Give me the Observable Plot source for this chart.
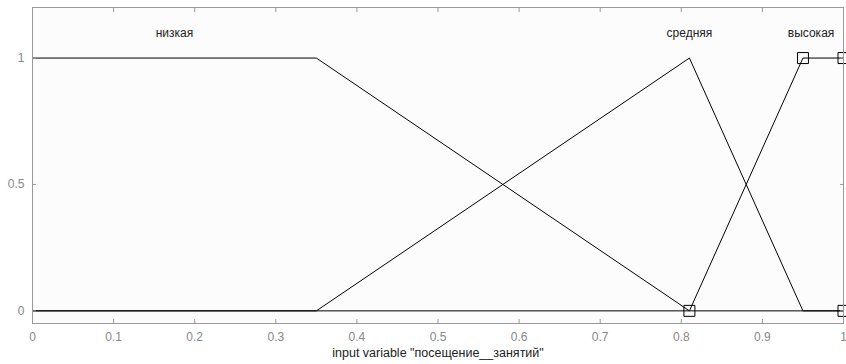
<!DOCTYPE html>
<html><head><meta charset="utf-8">
<script src="https://cdn.jsdelivr.net/npm/d3@7"></script>
<script src="https://cdn.jsdelivr.net/npm/@observablehq/plot@0.6"></script>
<style>body{margin:0;background:#fff}</style>
</head><body><div id="chart"></div>
<script>
const mfNames = ["низкая", "средняя", "высокая"];
const lowX = [0, 0.35, 0.81, 1];
const lowY = [1, 1, 0, 0];
const midX = [0, 0.35, 0.81, 0.95, 1];
const midY = [0, 0, 1, 0, 0];
const highX = [0, 0.81, 0.95, 1];
const highY = [0, 0, 1, 1];
const markerX = [0.81, 0.95, 1, 1];
const markerY = [0, 1, 1, 0];
const labelX = [0.175, 0.81, 0.96];
const labelY = [1.1, 1.1, 1.1];
const xTicks = [0, 0.1, 0.2, 0.3, 0.4, 0.5, 0.6, 0.7, 0.8, 0.9, 1];
const yTicks = [0, 0.5, 1];
const xTitle = 'input variable "посещение__занятий"';

const toPts = (xs, ys) => xs.map((x, i) => ({x, y: ys[i]}));
const low = toPts(lowX, lowY);
const mid = toPts(midX, midY);
const high = toPts(highX, highY);
const markers = toPts(markerX, markerY);
const labels = mfNames.map((name, i) => ({name, x: labelX[i], y: labelY[i]}));
const fmt = d => String(d);

const chart = Plot.plot({
  width: 846, height: 364,
  marginLeft: 32, marginRight: 3, marginTop: 7, marginBottom: 41,
  x: {domain: [0, 1]},
  y: {domain: [-0.05, 1.2]},
  style: {fontFamily: "'Liberation Sans', Arial, sans-serif", fontSize: "12px", background: "#fff"},
  marks: [
    Plot.frame({fill: "#fcfcfc", stroke: null}),
    Plot.line(low, {x: "x", y: "y", stroke: "#000", strokeWidth: 1}),
    Plot.line(mid, {x: "x", y: "y", stroke: "#000", strokeWidth: 1}),
    Plot.line(high, {x: "x", y: "y", stroke: "#000", strokeWidth: 1}),
    Plot.dot(markers, {x: "x", y: "y", symbol: "square", r: 6.2, stroke: "#000", fill: "none", strokeWidth: 1}),
    Plot.text(labels, {x: "x", y: "y", text: "name", fill: "#222", fontSize: 12}),
    Plot.frame({stroke: "#999"}),
    Plot.axisX({anchor: "bottom", ticks: xTicks, tickSize: -4, stroke: "#999", tickFormat: () => "", label: null}),
    Plot.axisX({anchor: "top", ticks: xTicks, tickSize: -4, stroke: "#999", tickFormat: () => "", label: null}),
    Plot.axisX({anchor: "bottom", ticks: xTicks, tickSize: 0, tickPadding: 9, fill: "#888", tickFormat: fmt, label: null, fontSize: 12}),
    Plot.axisY({anchor: "left", ticks: yTicks, tickSize: -4, stroke: "#999", tickFormat: () => "", label: null}),
    Plot.axisY({anchor: "right", ticks: yTicks, tickSize: -4, stroke: "#999", tickFormat: () => "", label: null}),
    Plot.axisY({anchor: "left", ticks: yTicks, tickSize: 0, tickPadding: 8, fill: "#888", tickFormat: fmt, label: null, fontSize: 12}),
    Plot.text([xTitle], {frameAnchor: "bottom", dy: 33, fill: "#222", fontSize: 12.5})
  ]
});
document.getElementById("chart").appendChild(chart);
</script>
</body></html>
